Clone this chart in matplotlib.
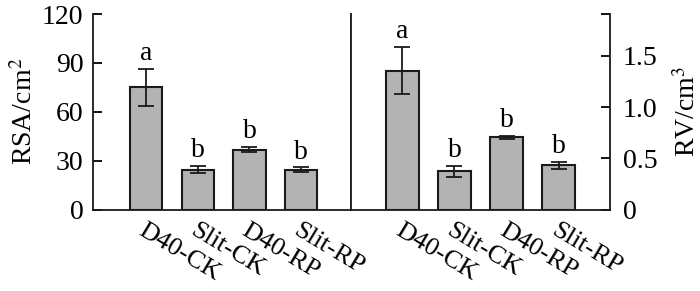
import matplotlib
matplotlib.use("Agg")
import matplotlib.pyplot as plt
import numpy as np

plt.rcParams["font.family"] = ["Liberation Serif", "DejaVu Serif"]
plt.rcParams["mathtext.fontset"] = "stix"

treatments = ["D40-CK", "Slit-CK", "D40-RP", "Slit-RP"]
rsa_mean = [75.0, 24.5, 36.8, 24.5]
rsa_err = [11.2, 2.4, 1.7, 1.3]
rsa_letters = ["a", "b", "b", "b"]
rv_mean = [1.357, 0.373, 0.705, 0.43]
rv_err = [0.23, 0.052, 0.017, 0.037]
rv_letters = ["a", "b", "b", "b"]

W, H = 700, 291
fig = plt.figure(figsize=(W / 100, H / 100), dpi=100)
bottom = (H - 209.5) / H
height = (209.5 - 14) / H
ax1 = fig.add_axes([93 / W, bottom, (351 - 93) / W, height])
ax2 = fig.add_axes([351 / W, bottom, (610 - 351) / W, height])

x = np.arange(len(treatments))
bar_color = "#b3b3b3"
fs = 20


def draw(ax, means, errs, letters, pad):
    ax.bar(x, means, width=0.62, color=bar_color, edgecolor="#1a1a1a", linewidth=1.5, zorder=2)
    ax.errorbar(x, means, yerr=errs, fmt="none", ecolor="#1a1a1a", elinewidth=1.3,
                capsize=6, capthick=1.3, zorder=3)
    for xi, m, e, t in zip(x, means, errs, letters):
        ax.annotate(t, (xi, m + e), xytext=(0, pad), textcoords="offset points",
                    ha="center", va="bottom", fontsize=fs)
    ax.set_xticks(x)
    ax.set_xticklabels(treatments, rotation=-31, ha="left", va="top",
                       rotation_mode="anchor", fontsize=19)
    ax.tick_params(axis="x", length=0, pad=7)
    ax.spines["top"].set_visible(False)
    for s in ax.spines.values():
        s.set_linewidth(1.3)
        s.set_color("#1a1a1a")


draw(ax1, rsa_mean, rsa_err, rsa_letters, 2)
ax1.set_xlim(-1.02, 3.96)
ax1.set_ylim(0, 120)
ax1.set_yticks([0, 30, 60, 90, 120])
ax1.tick_params(axis="y", direction="in", length=6.5, width=1.3, labelsize=fs, pad=7)
ax1.set_ylabel("RSA/cm$^2$", fontsize=fs, labelpad=3)

draw(ax2, rv_mean, rv_err, rv_letters, 2)
ax2.set_xlim(-0.99, 3.99)
ax2.set_ylim(0, 1.91)
ax2.yaxis.tick_right()
ax2.yaxis.set_label_position("right")
ax2.set_yticks([0, 0.5, 1.0, 1.5, 1.91])
ax2.set_yticklabels(["0", "0.5", "1.0", "1.5", ""])
ax2.tick_params(axis="y", direction="in", length=6.5, width=1.3, labelsize=fs, pad=9)
ax2.set_ylabel("RV/cm$^3$", fontsize=fs, labelpad=12)

fig.savefig("out.png", dpi=100)
